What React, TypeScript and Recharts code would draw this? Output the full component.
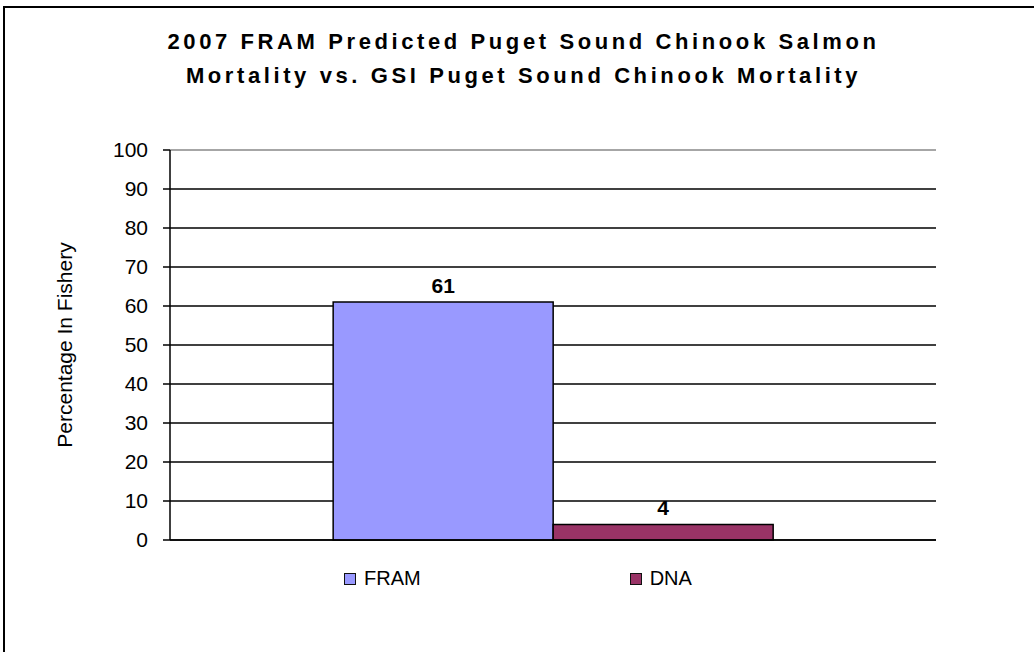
import React from 'react';
import {
  BarChart,
  Bar,
  XAxis,
  YAxis,
  CartesianGrid,
  Legend,
  LabelList,
  ReferenceLine,
} from 'recharts';

// one category, two series side by side
const categories = ['2007'];
const framValues = [61];
const dnaValues = [4];
const yTicks = [0, 10, 20, 30, 40, 50, 60, 70, 80, 90, 100];
const edgeTicks = [0, 1];

const seriesOrder = ['FRAM', 'DNA'];
const colors = { fram: '#9999FF', dna: '#993366' };

const FONT = "Arial, 'Liberation Sans', sans-serif";

const data = categories.map((c, i) => ({
  name: c,
  fram: framValues[i],
  dna: dnaValues[i],
}));

const LegendBox = (props: any) => {
  const payload = [...(props.payload || [])].sort(
    (a: any, b: any) => seriesOrder.indexOf(a.value) - seriesOrder.indexOf(b.value)
  );
  return (
    <div style={{ display: 'flex', paddingLeft: 344, gap: 209, fontFamily: FONT, fontSize: 20 }}>
      {payload.map((p: any) => (
        <div key={p.value} style={{ display: 'flex', alignItems: 'center' }}>
          <span
            style={{
              width: 10,
              height: 10,
              background: p.color,
              border: '1.5px solid #111',
              marginRight: 8,
            }}
          />
          <span style={{ color: '#000' }}>{p.value}</span>
        </div>
      ))}
    </div>
  );
};

export default function App() {
  return (
    <div style={{ position: 'relative', width: 1034, height: 652, overflow: 'hidden', background: '#fff' }}>
      <style>{'body{margin:0}'}</style>
      <div
        style={{
          position: 'absolute',
          left: 3,
          top: 6,
          width: 1100,
          height: 700,
          border: '2px solid #000',
          boxSizing: 'border-box',
        }}
      />
      <div
        style={{
          position: 'absolute',
          left: 0,
          width: 1047,
          top: 25,
          textAlign: 'center',
          fontFamily: FONT,
          fontWeight: 'bold',
          fontSize: 22,
          letterSpacing: 3.6,
          lineHeight: '34px',
        }}
      >
        <div>2007 FRAM Predicted Puget Sound Chinook Salmon</div>
        <div>Mortality vs. GSI Puget Sound Chinook Mortality</div>
      </div>
      <div style={{ position: 'absolute', left: 0, top: 0 }}>
        <BarChart
          width={1034}
          height={652}
          data={data}
          margin={{ top: 150, right: 98, left: 0, bottom: 102 }}
          barCategoryGap="21.3%"
          barGap={0}
        >
          <CartesianGrid vertical={false} stroke="#000" strokeWidth={1.5} />
          <XAxis xAxisId="cat" dataKey="name" hide height={0} />
          <XAxis
            xAxisId="edge"
            type="number"
            domain={[0, 1]}
            ticks={edgeTicks}
            tick={false}
            tickSize={7}
            height={10}
            stroke="#000"
            strokeWidth={1.5}
          />
          <YAxis
            domain={[0, 100]}
            ticks={yTicks}
            interval={0}
            width={170}
            tickSize={7}
            tickMargin={15}
            stroke="#000"
            strokeWidth={1.5}
            tick={{ fill: '#000', fontSize: 21, fontFamily: FONT }}
            label={{
              value: 'Percentage In Fishery',
              angle: -90,
              position: 'center',
              dx: -20,
              style: { fill: '#000', fontSize: 21, fontFamily: FONT, textAnchor: 'middle' },
            }}
          />
          <ReferenceLine xAxisId="edge" y={100} stroke="#c8c8c8" strokeWidth={1.5} />
          <Legend
            layout="horizontal"
            verticalAlign="middle"
            align="center"
            wrapperStyle={{ top: 567, left: 0, width: 1034 }}
            content={<LegendBox />}
          />
          <Bar
            xAxisId="cat"
            dataKey="fram"
            name="FRAM"
            fill={colors.fram}
            stroke="#000"
            strokeWidth={1.5}
            isAnimationActive={false}
          >
            <LabelList
              dataKey="fram"
              position="top"
              offset={9}
              style={{ fill: '#000', fontSize: 21, fontWeight: 'bold', fontFamily: FONT }}
            />
          </Bar>
          <Bar
            xAxisId="cat"
            dataKey="dna"
            name="DNA"
            fill={colors.dna}
            stroke="#000"
            strokeWidth={1.5}
            isAnimationActive={false}
          >
            <LabelList
              dataKey="dna"
              position="top"
              offset={9}
              style={{ fill: '#000', fontSize: 21, fontWeight: 'bold', fontFamily: FONT }}
            />
          </Bar>
        </BarChart>
      </div>
    </div>
  );
}
